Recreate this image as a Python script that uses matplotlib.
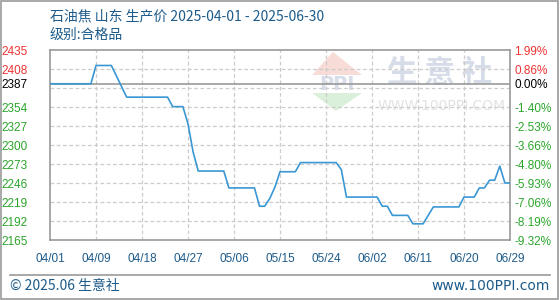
import numpy as np
import matplotlib
matplotlib.use("Agg")
import matplotlib.pyplot as plt
from matplotlib.patches import Polygon, Rectangle
from matplotlib.lines import Line2D

plt.rcParams['font.family'] = ['Noto Sans CJK SC', 'DejaVu Sans']

# ---------------- data ----------------
title = "石油焦 山东 生产价 2025-04-01 - 2025-06-30"
subtitle = "级别:合格品"
x_labels = ["04/01", "04/09", "04/18", "04/27", "05/06", "05/15",
            "05/24", "06/02", "06/11", "06/20", "06/29"]
left_ticks = [2435, 2408, 2387, 2354, 2327, 2300, 2273, 2246, 2219, 2192, 2165]
right_labels = ["1.99%", "0.86%", "0.00%", "-1.40%", "-2.53%", "-3.66%",
                "-4.80%", "-5.93%", "-7.06%", "-8.19%", "-9.32%"]
base_price = 2387
prices = (
    [2387] * 9 +            # day 0-8
    [2413] * 4 +            # 9-12
    [2398, 2383] +          # 13-14
    [2368] * 9 +            # 15-23
    [2354.5] * 3 +          # 24-26
    [2330, 2290] +          # 27-28
    [2263] * 6 +            # 29-34
    [2239] * 6 +            # 35-40
    [2213] * 2 +            # 41-42
    [2224, 2240] +          # 43-44
    [2262] * 4 +            # 45-48
    [2275] * 8 +            # 49-56
    [2265] +                # 57
    [2226] * 7 +            # 58-64
    [2213] * 2 +            # 65-66
    [2200] * 4 +            # 67-70
    [2188] * 3 +            # 71-73
    [2200] +                # 74
    [2212] * 6 +            # 75-80
    [2226] * 3 +            # 81-83
    [2239] * 2 +            # 84-85
    [2250] * 2 +            # 86-87
    [2270] +                # 88
    [2246] * 2              # 89-90
)
days = np.arange(len(prices))

# ---------------- figure ----------------
W, H = 560, 300
fig = plt.figure(figsize=(W / 100, H / 100), dpi=100)
fig.patch.set_facecolor("white")

def fx(px):
    return px / W

def fy(py):
    return 1 - py / H

ax = fig.add_axes([fx(50), fy(240), fx(510) - fx(50), fy(50) - fy(240)])
ymin, ymax = 2165, 2435
ax.set_xlim(0, len(prices) - 1)
ax.set_ylim(ymin, ymax)

grid_c = "#cccccc"
frame_c = "#999999"
step_y = (ymax - ymin) / 10
for k in range(1, 10):
    ax.axhline(ymin + k * step_y, color=grid_c, lw=0.9, ls=(0, (3, 2)), zorder=1)
xt = np.linspace(0, len(prices) - 1, len(x_labels))
for v in xt[1:-1]:
    ax.axvline(v, color=grid_c, lw=0.9, ls=(0, (3, 2)), zorder=1)
ax.axhline(base_price, color=frame_c, lw=1.2, zorder=2)

ax.plot(days, prices, color="#3a97d4", lw=1.2, zorder=3)

for s in ax.spines.values():
    s.set_color(frame_c)
    s.set_linewidth(1.2)

ax.set_xticks(xt)
ax.set_xticklabels(x_labels, color="#1d5b8a", fontsize=8.5,
                   family=["Liberation Sans", "DejaVu Sans"])
ax.tick_params(axis="x", length=0, pad=9)

ax.set_yticks(left_ticks)
ax.set_yticklabels([str(t) for t in left_ticks], fontsize=8.5,
                   family=["Liberation Sans", "DejaVu Sans"])
ax.tick_params(axis="y", length=0, pad=16)

def col(t):
    if t > base_price:
        return "#ee3333"
    if t == base_price:
        return "#000000"
    return "#2aa52a"

for lab, t in zip(ax.get_yticklabels(), left_ticks):
    lab.set_color(col(t))

ax2 = ax.twinx()
ax2.set_ylim(ymin, ymax)
ax2.set_yticks(left_ticks)
ax2.set_yticklabels(right_labels, fontsize=8.5,
                    family=["Liberation Sans", "DejaVu Sans"])
ax2.tick_params(axis="y", length=0, pad=3)
for lab, t in zip(ax2.get_yticklabels(), left_ticks):
    lab.set_color(col(t))
for s in ax2.spines.values():
    s.set_visible(False)

# ---------------- watermark ----------------
wm = fig.add_axes([0, 0, 1, 1], zorder=0)
wm.set_xlim(0, W)
wm.set_ylim(H, 0)
wm.axis("off")
wm.add_patch(Polygon([[333, 52], [312, 75], [362, 75]], closed=True,
                     fc="#f8dcd8", ec="none"))
wm.text(337, 84, "PPI", fontsize=14, fontweight="bold", color="#d6dce8",
        ha="center", va="center", family=["DejaVu Sans"])
wm.add_patch(Polygon([[312, 93], [362, 93], [336, 111]], closed=True,
                     fc="#daf0da", ec="none"))
wm.text(440, 73, "生 意 社", fontsize=22, fontweight="bold", color="#d6dce8",
        ha="center", va="center")
wm.text(442, 106, "WWW.100PPI.COM", fontsize=10, color="#e2e2e2",
        ha="center", va="center", family=["DejaVu Sans"])
ax.set_zorder(1)
ax.patch.set_alpha(0)
ax2.set_zorder(2)

# ---------------- texts ----------------
fig.text(fx(50), fy(16), title, fontsize=10, color="#1d5b8a", va="center", ha="left")
fig.text(fx(50), fy(35), subtitle, fontsize=10, color="#1d5b8a", va="center", ha="left")
fig.text(fx(10), fy(286), "© 2025.06 生意社", fontsize=10, color="#1d5b8a",
         va="center", ha="left")
fig.text(fx(550), fy(286), "www.100PPI.com", fontsize=10, color="#1d5b8a",
         va="center", ha="right", family=["DejaVu Sans"])

fig.add_artist(Line2D([fx(10), fx(550)], [fy(275), fy(275)], color="#999999", lw=1.2))
fig.add_artist(Rectangle((fx(1), fy(299)), fx(557), fy(1) - fy(299),
                         fill=False, ec="#999999", lw=1.2))

fig.savefig("out.png", dpi=100)
